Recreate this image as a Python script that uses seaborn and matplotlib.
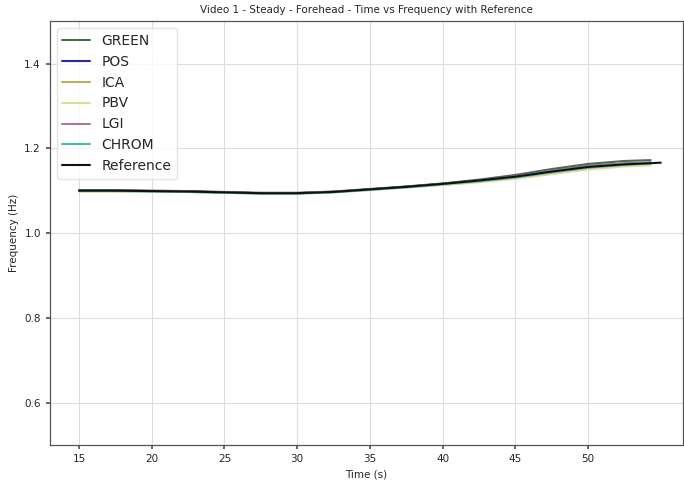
import matplotlib
matplotlib.use("Agg")
import matplotlib.pyplot as plt
import seaborn as sns
import pandas as pd

sns.set_theme(style="whitegrid")
plt.rcParams['font.family'] = ['DejaVu Sans']

times = [15, 17.5, 20, 22.5, 25, 27.5, 30, 32.5, 35, 37.5, 40, 42.5, 45, 47.5, 50, 52.5, 54.3]
green = [1.101, 1.101, 1.100, 1.099, 1.097, 1.095, 1.095, 1.098, 1.104, 1.110, 1.117, 1.126, 1.137, 1.151, 1.163, 1.170, 1.172]
pos   = [1.100, 1.100, 1.099, 1.098, 1.096, 1.094, 1.094, 1.097, 1.103, 1.109, 1.116, 1.124, 1.134, 1.147, 1.158, 1.164, 1.166]
ica   = [1.099, 1.099, 1.098, 1.097, 1.095, 1.094, 1.094, 1.097, 1.102, 1.108, 1.114, 1.121, 1.130, 1.141, 1.152, 1.159, 1.162]
pbv   = [1.098, 1.098, 1.098, 1.097, 1.095, 1.093, 1.093, 1.096, 1.101, 1.107, 1.113, 1.120, 1.128, 1.139, 1.150, 1.157, 1.160]
lgi   = [1.100, 1.100, 1.099, 1.098, 1.096, 1.094, 1.094, 1.097, 1.103, 1.109, 1.116, 1.124, 1.134, 1.147, 1.158, 1.164, 1.166]
chrom = [1.099, 1.099, 1.098, 1.097, 1.095, 1.093, 1.093, 1.096, 1.102, 1.108, 1.115, 1.122, 1.131, 1.143, 1.154, 1.161, 1.164]

ref_times = [15, 17.5, 20, 22.5, 25, 27.5, 30, 32.5, 35, 37.5, 40, 42.5, 45, 47.5, 50, 52.5, 55.0]
reference = [1.100, 1.100, 1.099, 1.098, 1.096, 1.094, 1.094, 1.097, 1.103, 1.109, 1.116, 1.124, 1.133, 1.145, 1.156, 1.162, 1.166]

methods = ["GREEN", "POS", "ICA", "PBV", "LGI", "CHROM"]
series = [green, pos, ica, pbv, lgi, chrom]
colors = {"GREEN": "#4a6a4a", "POS": "#2a2a9a", "ICA": "#b8b45a", "PBV": "#dcdc9a",
          "LGI": "#b07898", "CHROM": "#48b8a8", "Reference": "#111111"}

rows = []
for m, vals in zip(methods, series):
    for t, v in zip(times, vals):
        rows.append({"Time": t, "Frequency": v, "Method": m})
for t, v in zip(ref_times, reference):
    rows.append({"Time": t, "Frequency": v, "Method": "Reference"})
df = pd.DataFrame(rows)

fig = plt.figure(figsize=(6.84, 4.8), dpi=100)
ax = fig.add_axes([0.073, 0.073, 0.925, 0.883])
sns.lineplot(data=df, x="Time", y="Frequency", hue="Method", palette=colors,
             hue_order=methods + ["Reference"], ax=ax, linewidth=1.5, estimator=None, sort=True)

ax.set_xlim(13.0, 56.5)
ax.set_ylim(0.5, 1.5)
ax.set_xticks([15, 20, 25, 30, 35, 40, 45, 50])
ax.set_yticks([0.6, 0.8, 1.0, 1.2, 1.4])
ax.tick_params(labelsize=7.5, length=3, left=True, bottom=True, color="#555555")
ax.set_xlabel("Time (s)", fontsize=7.5)
ax.set_ylabel("Frequency (Hz)", fontsize=7.5)
ax.set_title("Video 1 - Steady - Forehead - Time vs Frequency with Reference", fontsize=7.5)
for s in ax.spines.values():
    s.set_color("#555555")
    s.set_linewidth(0.9)
ax.grid(True, color="#dddddd", linewidth=0.8)
ax.legend(loc="upper left", fontsize=10, title=None, frameon=True, framealpha=0.8, edgecolor="#dddddd")

fig.savefig("out.png", dpi=100)
